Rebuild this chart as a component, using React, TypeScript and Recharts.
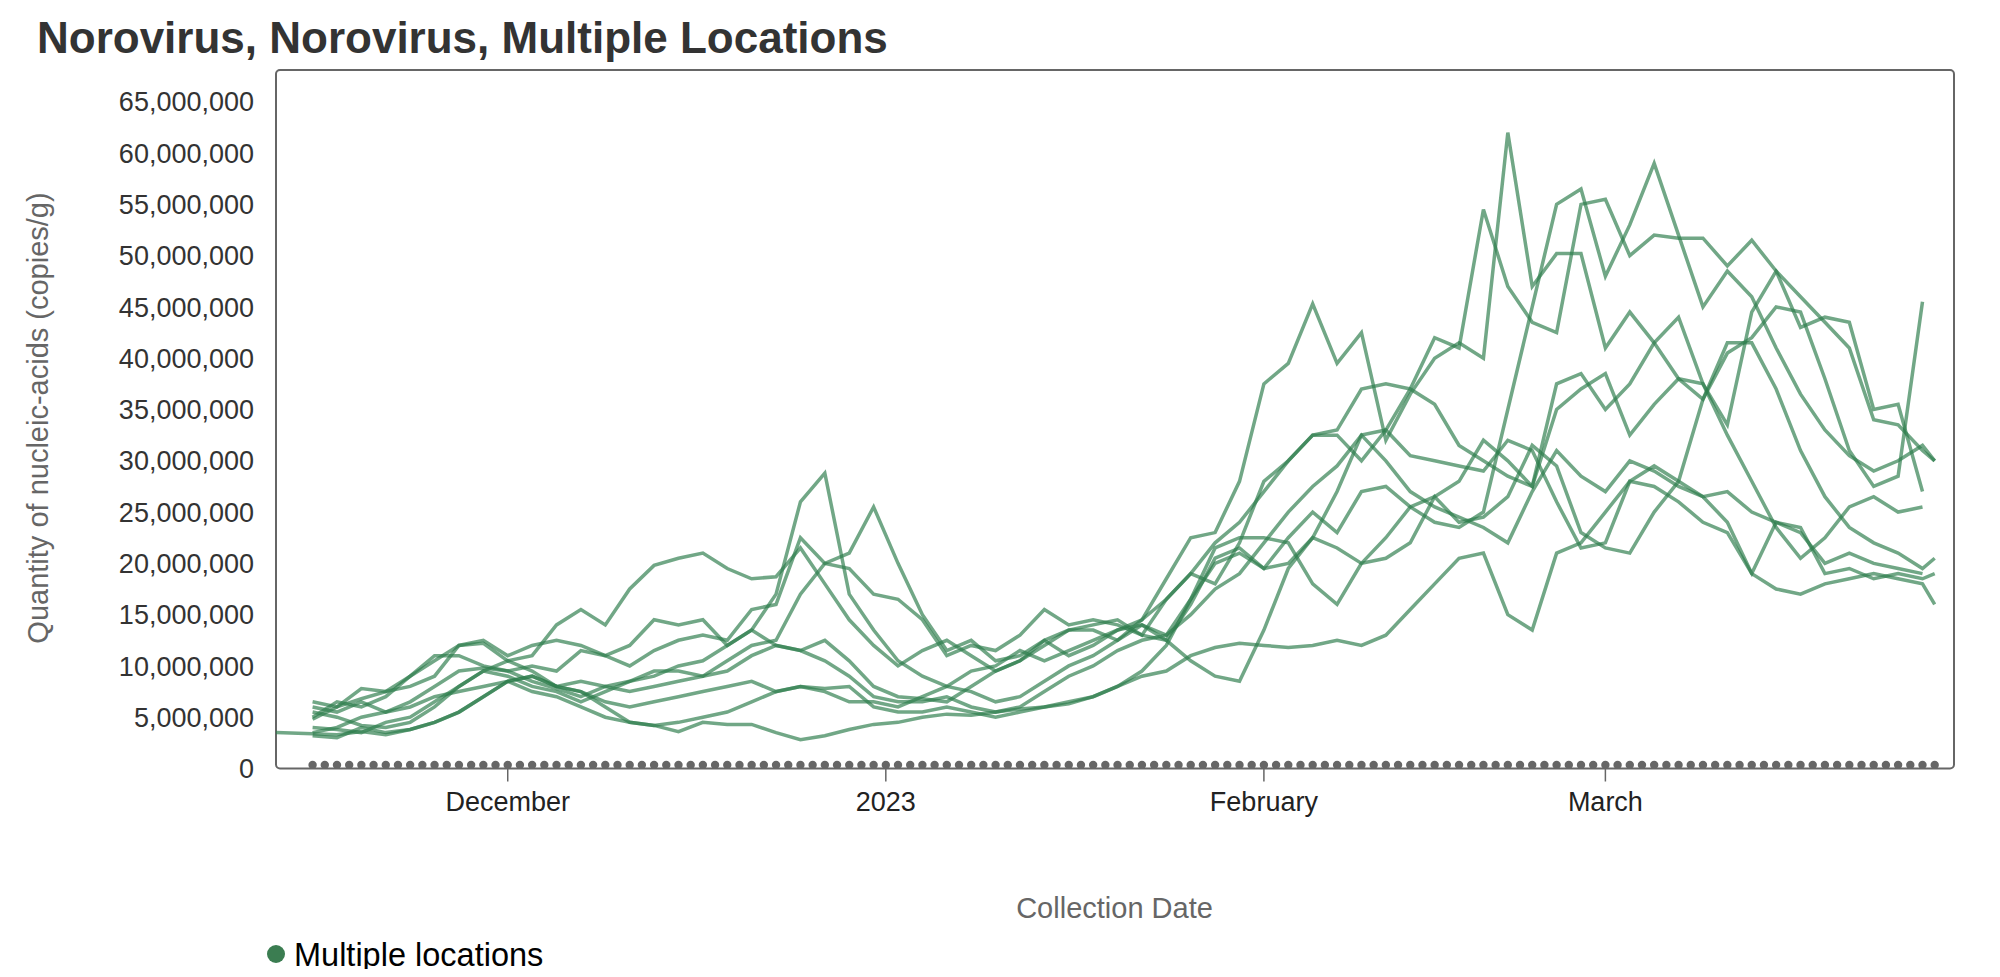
import React from 'react';
import { ComposedChart, Line, Scatter, XAxis, YAxis, ReferenceArea } from 'recharts';

const dates = [
  '2022-11-12',
  '2022-11-15', '2022-11-17', '2022-11-19', '2022-11-21', '2022-11-23', '2022-11-25', '2022-11-27', '2022-11-29',
  '2022-12-01', '2022-12-03', '2022-12-05', '2022-12-07', '2022-12-09', '2022-12-11', '2022-12-13', '2022-12-15',
  '2022-12-17', '2022-12-19', '2022-12-21', '2022-12-23', '2022-12-25', '2022-12-27', '2022-12-29', '2022-12-31',
  '2023-01-02', '2023-01-04', '2023-01-06', '2023-01-08', '2023-01-10', '2023-01-12', '2023-01-14', '2023-01-16',
  '2023-01-18', '2023-01-20', '2023-01-22', '2023-01-24', '2023-01-26', '2023-01-28', '2023-01-30', '2023-02-01',
  '2023-02-03', '2023-02-05', '2023-02-07', '2023-02-09', '2023-02-11', '2023-02-13', '2023-02-15', '2023-02-17',
  '2023-02-19', '2023-02-21', '2023-02-23', '2023-02-25', '2023-02-27', '2023-03-01', '2023-03-03', '2023-03-05',
  '2023-03-07', '2023-03-09', '2023-03-11', '2023-03-13', '2023-03-15', '2023-03-17', '2023-03-19', '2023-03-21',
  '2023-03-23', '2023-03-25', '2023-03-27', '2023-03-28',
];

// values in millions of copies/g
const site1 = [null,
  4.8, 6.0, 6.8, 7.5, 9.0, 10.5, 12.0, 12.2,
  10.5, 11.0, 14.0, 15.5, 14.0, 17.5, 19.8, 20.5,
  21.0, 19.5, 18.5, 18.7, 21.5, 18.0, 14.5, 12.0,
  10.0, 11.5, 12.5, 11.0, 9.5, 10.5, 12.5, 11.0,
  12.0, 13.5, 14.5, 18.5, 22.5, 23.0, 28.0, 37.5,
  39.5, 45.3, 39.5, 42.5, 32.0, 36.5, 40.0, 41.5,
  40.0, 62.0, 47.0, 50.2, 50.2, 41.0, 44.5, 41.5,
  38.0, 36.0, 40.5, 42.0, 45.0, 44.5, 38.0, 31.0,
  27.5, 28.5, 45.5, null];
const site2 = [null,
  5.5, 5.0, 4.2, 4.0, 4.5, 6.0, 8.0, 9.5,
  9.0, 8.0, 7.5, 6.5, 7.5, 8.5, 9.0, 10.0,
  10.5, 12.0, 13.5, 17.0, 26.0, 28.8, 17.0, 13.5,
  10.5, 9.0, 8.0, 7.5, 6.5, 7.0, 8.5, 10.0,
  11.0, 12.5, 14.0, 13.0, 16.5, 20.0, 21.0, 19.5,
  22.5, 25.0, 23.0, 27.0, 27.5, 25.5, 24.0, 23.5,
  25.0, 35.0, 45.0, 55.0, 56.5, 48.0, 53.0, 59.0,
  52.0, 45.0, 48.5, 46.0, 41.0, 36.5, 33.0, 30.5,
  29.0, 30.0, 31.5, 30.0];
const site3 = [null,
  3.5, 4.0, 5.0, 5.5, 6.5, 8.0, 9.5, 9.8,
  9.5, 8.5, 7.8, 7.0, 8.0, 8.5, 9.5, 9.5,
  9.0, 10.5, 12.0, 12.5, 17.0, 20.0, 21.0, 25.5,
  20.0, 15.0, 11.5, 12.5, 10.5, 11.0, 12.5, 13.5,
  13.5, 12.5, 14.5, 16.5, 19.0, 18.0, 22.0, 28.0,
  30.0, 32.5, 32.5, 30.0, 33.0, 37.0, 35.5, 31.5,
  30.0, 28.5, 27.5, 37.5, 38.5, 35.0, 37.5, 41.5,
  44.0, 37.5, 33.5, 44.5, 48.5, 46.0, 43.5, 41.0,
  34.0, 33.5, 31.0, 30.0];
const site4 = [null,
  6.5, 6.0, 7.8, 7.5, 8.0, 9.0, 12.0, 12.5,
  11.0, 12.0, 12.5, 12.0, 11.0, 12.0, 14.5, 14.0,
  14.5, 12.0, 13.5, 12.0, 11.5, 12.5, 10.5, 8.0,
  7.0, 6.8, 6.5, 8.0, 9.5, 10.5, 12.0, 13.5,
  14.0, 14.5, 13.0, 16.5, 19.0, 22.0, 24.0, 27.0,
  30.0, 32.5, 33.0, 37.0, 37.5, 37.0, 42.0, 41.0,
  54.5, 47.0, 43.5, 42.5, 55.0, 55.5, 50.0, 52.0,
  51.7, 51.7, 49.0, 51.5, 48.5, 43.0, 44.0, 43.5,
  35.0, 35.5, 27.0, null];
const site5 = [null,
  4.0, 3.8, 3.5, 4.5, 5.0, 6.5, 8.0, 9.5,
  10.5, 9.5, 8.0, 7.5, 6.5, 6.0, 6.5, 7.0,
  7.5, 8.0, 8.5, 7.5, 8.0, 7.8, 8.0, 6.0,
  5.5, 5.5, 6.0, 5.5, 5.0, 5.5, 6.0, 6.5,
  7.0, 8.0, 9.5, 12.0, 16.5, 21.5, 22.5, 22.5,
  22.0, 18.0, 16.0, 20.0, 20.5, 22.0, 26.5, 24.0,
  24.5, 26.5, 31.5, 29.5, 23.0, 21.5, 21.0, 25.0,
  28.0, 36.0, 41.5, 41.5, 37.0, 31.0, 26.5, 23.5,
  22.0, 21.0, 19.5, 20.5];
const site6 = [null,
  3.2, 3.0, 4.0, 3.5, 3.8, 4.5, 5.5, 7.0,
  8.5, 9.0, 8.0, 8.5, 8.0, 7.5, 8.0, 8.5,
  9.0, 9.5, 11.0, 12.0, 11.5, 10.5, 9.0, 7.0,
  6.5, 6.5, 7.0, 6.0, 5.5, 6.0, 7.5, 9.0,
  10.0, 11.5, 12.5, 13.0, 15.0, 17.5, 19.0, 22.0,
  25.0, 27.5, 29.5, 32.5, 30.0, 27.0, 25.5, 24.5,
  23.5, 22.0, 27.0, 31.0, 28.5, 27.0, 30.0, 29.0,
  27.5, 26.5, 24.0, 19.0, 17.5, 17.0, 18.0, 18.5,
  19.0, 18.5, 18.0, 16.0];
const site7 = [null,
  6.0, 5.5, 6.5, 5.5, 6.0, 7.0, 7.5, 8.0,
  8.5, 7.5, 7.0, 6.0, 5.0, 4.5, 4.2, 4.5,
  5.0, 5.5, 6.5, 7.5, 8.0, 7.5, 6.5, 6.5,
  6.0, 7.0, 8.0, 9.5, 10.0, 11.5, 10.5, 11.5,
  12.5, 13.5, 14.0, 12.5, 10.5, 9.0, 8.5, 13.5,
  19.5, 22.5, 21.5, 20.0, 22.5, 25.5, 26.5, 28.0,
  32.0, 30.0, 27.5, 35.0, 37.0, 38.5, 32.5, 35.5,
  38.0, 37.5, 32.5, 28.0, 23.5, 20.5, 22.5, 25.5,
  26.5, 25.0, 25.5, null];
const site8 = [null,
  5.0, 6.5, 6.0, 7.0, 9.0, 11.0, 11.0, 10.0,
  9.5, 10.0, 9.5, 11.5, 11.0, 10.0, 11.5, 12.5,
  13.0, 12.5, 15.5, 16.0, 22.5, 20.0, 19.5, 17.0,
  16.5, 14.5, 11.0, 12.0, 11.5, 13.0, 15.5, 14.0,
  14.5, 14.0, 13.0, 12.5, 16.0, 20.5, 21.5, 19.5,
  20.0, 22.5, 27.0, 32.5, 33.0, 30.5, 30.0, 29.5,
  29.0, 32.0, 31.0, 26.0, 21.5, 22.0, 28.0, 27.5,
  26.0, 24.0, 23.0, 19.0, 24.0, 23.5, 19.0, 19.5,
  18.5, 19.0, 18.5, 19.0];
const site9 = [3.5,
  3.4, 3.3, 3.6, 3.3, 3.8, 4.5, 5.5, 7.0,
  8.5, 9.0, 8.0, 7.5, 6.0, 4.5, 4.2, 3.6,
  4.5, 4.3, 4.3, 3.5, 2.8, 3.2, 3.8, 4.3,
  4.5, 5.0, 5.3, 5.2, 5.5, 5.8, 6.0, 6.3,
  7.0, 8.0, 9.0, 9.5, 11.0, 11.8, 12.2, 12.0,
  11.8, 12.0, 12.5, 12.0, 13.0, 15.5, 18.0, 20.5,
  21.0, 15.0, 13.5, 21.0, 22.0, 25.0, 28.0, 29.5,
  28.0, 26.5, 27.0, 25.0, 24.0, 23.0, 20.0, 21.0,
  20.0, 19.5, 19.0, null];

const sites = [site1, site2, site3, site4, site5, site6, site7, site8, site9];

const xTickDates = ['2022-12-01', '2023-01-01', '2023-02-01', '2023-03-01'];
const xTickLabels = ['December', '2023', 'February', 'March'];
const yTicksMillions = [0, 5, 10, 15, 20, 25, 30, 35, 40, 45, 50, 55, 60, 65];
const yMaxMillions = 68.1;
const xDomainDates = ['2022-11-12T00:00:00Z', '2023-03-29T14:00:00Z'];
const zeroDotRange = ['2022-11-15', '2023-03-28'];

const title = 'Norovirus, Norovirus, Multiple Locations';
const yLabel = 'Quantity of nucleic-acids (copies/g)';
const xLabel = 'Collection Date';
const legendLabel = 'Multiple locations';

const toT = (d: string) => Date.parse(d.includes('T') ? d : d + 'T00:00:00Z');
const DAY = 86400000;

const rows = dates.map((d, i) => {
  const row: Record<string, number | null> = { t: toT(d) };
  sites.forEach((s, j) => {
    row['s' + j] = s[i] == null ? null : (s[i] as number) * 1e6;
  });
  return row;
});

const zeroDots: { t: number; v: number }[] = [];
for (let t = toT(zeroDotRange[0]); t <= toT(zeroDotRange[1]); t += DAY) {
  zeroDots.push({ t, v: 0 });
}

const X0 = toT(xDomainDates[0]);
const X1 = toT(xDomainDates[1]);
const xTicks = xTickDates.map(toT);
const yTicks = yTicksMillions.map((v) => v * 1e6);
const FONT = '"Liberation Sans", Arial, Helvetica, sans-serif';

const W = 1984;
const H = 961;

export default function App() {
  return (
    <div style={{ position: 'relative', width: W, height: H, fontFamily: FONT }}>
      <div style={{ position: 'absolute', left: 0, top: 0 }}>
        <ComposedChart
          width={W}
          height={H}
          data={rows}
          margin={{ top: 62, right: 38, left: 188, bottom: 140.5 }}
        >
          <XAxis
            dataKey="t"
            type="number"
            domain={[X0, X1]}
            allowDataOverflow
            ticks={xTicks}
            interval={0}
            tickFormatter={(v: number) => xTickLabels[xTicks.indexOf(v)] ?? ''}
            height={60}
            axisLine={false}
            tickLine={{ stroke: '#666', strokeWidth: 1.5 }}
            tickSize={13}
            tickMargin={10}
            tick={{ fill: '#222', fontSize: 27, fontFamily: FONT }}
          />
          <YAxis
            type="number"
            domain={[0, yMaxMillions * 1e6]}
            allowDataOverflow
            ticks={yTicks}
            interval={0}
            width={80}
            axisLine={false}
            tickLine={false}
            tickSize={0}
            tickMargin={22}
            tickFormatter={(v: number) => v.toLocaleString('en-US')}
            tick={{ fill: '#333', fontSize: 27, fontFamily: FONT }}
          />
          <ReferenceArea
            x1={X0}
            x2={X1}
            y1={0}
            y2={yMaxMillions * 1e6}
            ifOverflow="visible"
            fill="none"
            stroke="#666"
            strokeWidth={2}
            radius={4}
          />
          {sites.map((_, j) => (
            <Line
              key={j}
              dataKey={'s' + j}
              type="linear"
              stroke="#2e7d4c"
              strokeOpacity={0.68}
              strokeWidth={3.5}
              dot={false}
              activeDot={false}
              connectNulls
              isAnimationActive={false}
            />
          ))}
          <Scatter
            data={zeroDots}
            dataKey="v"
            fill="#666"
            isAnimationActive={false}
            shape={(p: any) => <circle cx={p.cx} cy={p.cy - 3.5} r={4.2} fill="#666" />}
          />
        </ComposedChart>
      </div>
      <svg
        width={W}
        height={H}
        style={{ position: 'absolute', left: 0, top: 0, overflow: 'visible', pointerEvents: 'none' }}
      >
        <text x={29} y={45} fontSize={44} fontWeight="bold" fill="#333" fontFamily={FONT}>
          {title}
        </text>
        <text
          x={0}
          y={0}
          transform="translate(30,410) rotate(-90)"
          textAnchor="middle"
          dominantBaseline="central"
          fontSize={29}
          fill="#666"
          fontFamily={FONT}
        >
          {yLabel}
        </text>
        <text x={1106.5} y={910} textAnchor="middle" fontSize={29} fill="#666" fontFamily={FONT}>
          {xLabel}
        </text>
        <circle cx={268} cy={946} r={9} fill="#3b7d51" />
        <text x={286} y={958} fontSize={32.5} fill="#000" fontFamily={FONT}>
          {legendLabel}
        </text>
      </svg>
    </div>
  );
}
